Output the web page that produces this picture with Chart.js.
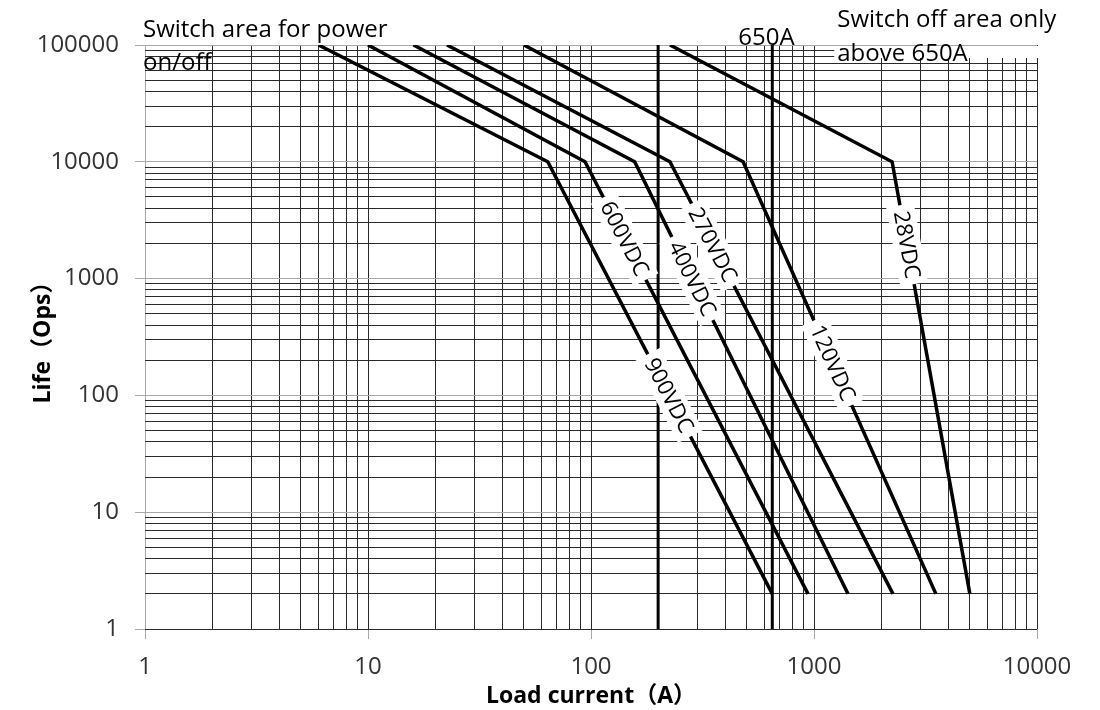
<!DOCTYPE html>
<html>
<head>
<meta charset="utf-8">
<script src="https://cdn.jsdelivr.net/npm/chart.js@4.4.1/dist/chart.umd.min.js"></script>
<style>
  html, body { margin: 0; padding: 0; background: #fff; }
</style>
</head>
<body>
<canvas id="LifeChart" width="1100" height="710"></canvas>
<script>
// curves: load current (A) at 100000, 10000 and 2 ops
const voltages = ["900VDC", "600VDC", "400VDC", "270VDC", "120VDC", "28VDC"];
const currentTop = [6, 10, 16, 22.6, 50, 226];
const currentKnee = [64, 94, 157, 226, 481, 2240];
const currentEnd = [650, 940, 1420, 2260, 3520, 5000];
const lifePoints = [100000, 10000, 2];
// life value where each curve's label sits
const labelLife = [100, 2200, 1000, 1950, 190, 1950];
// vertical limits (A)
const limitCurrents = [200, 650];
// tick labels
const xTicks = [1, 10, 100, 1000, 10000];
const yTicks = [1, 10, 100, 1000, 10000, 100000];

const FONT = '"Open Sans", "Noto Sans CJK SC", sans-serif';

function logTicks(min, max) {
  const out = [];
  for (let d = min; d < max; d *= 10) {
    for (let m = 1; m < 10; m++) out.push(m * d);
  }
  out.push(max);
  return out.map(function (v) { return { value: v }; });
}

function isDecade(v) {
  const l = Math.log10(v);
  return Math.abs(l - Math.round(l)) < 1e-6;
}

let datasets = voltages.map(function (name, i) {
  return {
    label: name,
    data: [
      { x: currentTop[i], y: lifePoints[0] },
      { x: currentKnee[i], y: lifePoints[1] },
      { x: currentEnd[i], y: lifePoints[2] },
    ],
    showLine: true,
    borderColor: "#000",
    borderWidth: 3.5,
    borderJoinStyle: "miter",
    pointRadius: 0,
  };
});

limitCurrents.forEach(function (a) {
  datasets.push({
    label: a + "A",
    data: [
      { x: a, y: yTicks[0] },
      { x: a, y: yTicks[yTicks.length - 1] },
    ],
    showLine: true,
    borderColor: "#000",
    borderWidth: 3,
    pointRadius: 0,
  });
});

const curveLabels = {
  id: "curveLabels",
  afterDatasetsDraw(chart) {
    const ctx = chart.ctx;
    const xs = chart.scales.x;
    const ys = chart.scales.y;
    ctx.save();
    ctx.font = "22px " + FONT;
    ctx.textAlign = "center";
    ctx.textBaseline = "middle";
    [0, 1, 3, 2, 4, 5].forEach(function (i) {
      const x1 = xs.getPixelForValue(currentKnee[i]);
      const y1 = ys.getPixelForValue(lifePoints[1]);
      const x2 = xs.getPixelForValue(currentEnd[i]);
      const y2 = ys.getPixelForValue(lifePoints[2]);
      const angle = Math.atan2(y2 - y1, x2 - x1);
      const t = Math.log(lifePoints[1] / labelLife[i]) / Math.log(lifePoints[1] / lifePoints[2]);
      const lx = Math.exp(Math.log(currentKnee[i]) + t * Math.log(currentEnd[i] / currentKnee[i]));
      const px = xs.getPixelForValue(lx);
      const py = ys.getPixelForValue(labelLife[i]);
      const w = ctx.measureText(voltages[i]).width + 12;
      ctx.save();
      ctx.translate(px, py);
      ctx.rotate(angle);
      ctx.fillStyle = "#fff";
      ctx.fillRect(-w / 2, -14, w, 28);
      ctx.fillStyle = "#000";
      ctx.fillText(voltages[i], 0, 1);
      ctx.restore();
    });
    ctx.restore();
  },
};

const notes = {
  id: "notes",
  afterDraw(chart) {
    const ctx = chart.ctx;
    const area = chart.chartArea;
    const x650 = chart.scales.x.getPixelForValue(limitCurrents[1]);
    ctx.save();
    ctx.font = "24px " + FONT;
    ctx.fillStyle = "#000";
    ctx.textAlign = "left";
    ctx.textBaseline = "alphabetic";
    ctx.fillText("Switch area for power", area.left - 2, area.top - 8);
    ctx.fillText("on/off", area.left - 2, area.top + 25);
    ctx.fillText("650A", x650 - 34, area.top);
    ctx.fillStyle = "#fff";
    ctx.fillRect(x650 + 62, area.top + 1, area.right - x650 - 60, 12);
    ctx.fillStyle = "#000";
    ctx.fillText("Switch off area only", x650 + 65, area.top - 18);
    ctx.fillText("above 650A", x650 + 65, area.top + 16);
    ctx.restore();
  },
};

function axisGrid(lightFor) {
  return {
    color: function (c) {
      return lightFor(c.tick.value) ? "#a8a8a8" : "#2a2a2a";
    },
    lineWidth: 1,
    tickLength: 10,
    tickColor: function (c) {
      return isDecade(c.tick.value) ? "#a8a8a8" : "rgba(0,0,0,0)";
    },
  };
}

new Chart(document.getElementById("LifeChart"), {
  type: "scatter",
  data: { datasets: datasets },
  options: {
    responsive: false,
    animation: false,
    events: [],
    layout: { padding: { top: 45, right: 63, left: 0, bottom: 0 } },
    plugins: {
      legend: { display: false },
      tooltip: { enabled: false },
    },
    scales: {
      x: {
        type: "logarithmic",
        position: "bottom",
        min: xTicks[0],
        max: xTicks[xTicks.length - 1],
        afterBuildTicks: function (s) { s.ticks = logTicks(xTicks[0], xTicks[xTicks.length - 1]); },
        afterFit: function (s) { s.height = 81; },
        border: { display: false },
        grid: axisGrid(function (v) { return v === xTicks[0]; }),
        ticks: {
          autoSkip: false,
          maxRotation: 0,
          padding: 14,
          color: "#333",
          font: { family: FONT, size: 24 },
          callback: function (v) { return xTicks.includes(v) ? String(v) : ""; },
        },
        title: {
          display: true,
          text: "Load current（A）",
          color: "#000",
          font: { family: FONT, size: 23, weight: "bold" },
          padding: { top: 0, bottom: 0 },
        },
      },
      y: {
        type: "logarithmic",
        position: "left",
        min: yTicks[0],
        max: yTicks[yTicks.length - 1],
        afterBuildTicks: function (s) { s.ticks = logTicks(yTicks[0], yTicks[yTicks.length - 1]); },
        afterFit: function (s) { s.width = 145; },
        border: { display: false },
        grid: axisGrid(function (v) { return isDecade(v) && v !== yTicks[0]; }),
        ticks: {
          autoSkip: false,
          padding: 16,
          color: "#333",
          font: { family: FONT, size: 24 },
          callback: function (v) { return yTicks.includes(v) ? String(v) : ""; },
        },
        title: {
          display: true,
          text: "Life（Ops）",
          color: "#000",
          font: { family: FONT, size: 23, weight: "bold" },
          padding: { top: 30, bottom: 0 },
        },
      },
    },
  },
  plugins: [curveLabels, notes],
});
</script>
</body>
</html>
